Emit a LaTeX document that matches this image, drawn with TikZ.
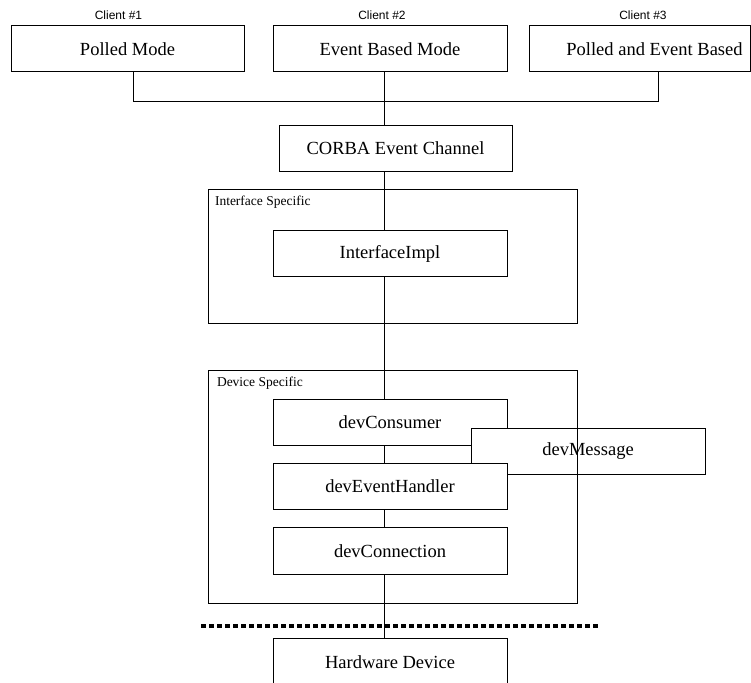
\documentclass[tikz,border=0pt]{standalone}
\usepackage{fontspec}
\setmainfont{Liberation Serif}
\newfontfamily\clientfont{Liberation Sans}
\usepackage{tikz}
\usetikzlibrary{positioning}
\newcommand\boxsize{\fontsize{18.5}{21}\selectfont}
\newcommand\groupsize{\fontsize{13.5}{15}\selectfont}
\tikzset{
  box/.style={draw, fill=white, minimum width=234pt, minimum height=46.5pt, inner sep=0pt, font=\boxsize},
  group/.style={draw, minimum width=369pt},
  grouplabel/.style={anchor=west, inner sep=0pt, font=\groupsize},
  client/.style={inner sep=0pt, font=\clientfont\fontsize{12}{14}\selectfont}
}
\begin{document}
\begin{tikzpicture}[x=1pt,y=-1pt,line width=0.9pt]
  \useasboundingbox (0,0) rectangle (751,682);
  \node[box, minimum width=233pt] (polled) at (127.5,48.7) {Polled Mode};
  \node[box] (event) at (390,48.7) {Event Based Mode};
  \node[box, minimum width=221pt, label={[font=\boxsize, xshift=15pt]center:Polled and Event Based}] (both) at (639.5,48.7) {};
  \foreach \x/\n/\lab in {118.5/c1/{Client \#1},382/c2/{Client \#2},643/c3/{Client \#3}}
    \node[client] (\n) at (\x,15) {\lab};
  \node[box, minimum width=233pt] (corba) at (395.5,148.4) {CORBA Event Channel};
  \node[box] (impl) at (390,253.5) {InterfaceImpl};
  \node[box] (cons) at (390,422.5) {devConsumer};
  \node[box] (msg) at (588,451.5) {devMessage};
  \node[box] (evh) at (390,486.5) {devEventHandler};
  \node[box] (conn) at (390,551) {devConnection};
  \node[box, minimum height=48pt] (hw) at (390,662) {Hardware Device};
  \node[group, minimum height=134pt] (ifgroup) at (392.5,256) {};
  \node[group, minimum height=233pt] (devgroup) at (392.5,486.5) {};
  \node[grouplabel] (iflabel) at ([xshift=7pt,yshift=-14pt]ifgroup.north west) {Interface Specific};
  \node[grouplabel] (devlabel) at ([xshift=9pt,yshift=-14pt]devgroup.north west) {Device Specific};
  \coordinate (bus) at (384,101.7);
  \coordinate (spine) at (384,0);
  \draw ([xshift=5.5pt]polled.south) |- (bus) -| ([xshift=18.5pt]both.south);
  \draw (event.south -| spine) -- (corba.north -| spine);
  \draw (corba.south -| spine) -- (impl.north -| spine);
  \draw (impl.south -| spine) -- (cons.north -| spine);
  \draw (cons.south -| spine) -- (evh.north -| spine);
  \draw (evh.south -| spine) -- (conn.north -| spine);
  \draw (conn.south -| spine) -- (hw.north -| spine);
  \draw[line width=4pt, dash pattern=on 5pt off 3pt] (201,625.5) -- (598,625.5);
\end{tikzpicture}
\end{document}
